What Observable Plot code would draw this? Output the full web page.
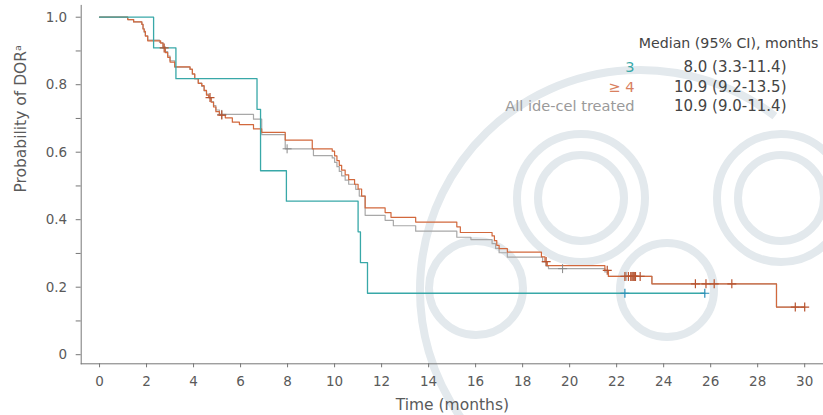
<!DOCTYPE html>
<html><head><meta charset="utf-8">
<script src="https://cdn.jsdelivr.net/npm/d3@7"></script>
<script src="https://cdn.jsdelivr.net/npm/@observablehq/plot@0.6"></script>
<style>
html,body{margin:0;padding:0;background:#fff;}
</style>
</head><body><div id="chart"></div>
<script>
// ---- data ----
const tealTimes = [0, 2.3, 3.25, 6.7, 6.85, 7.95, 11.0, 11.1, 11.4];
const tealSurv  = [1.0, 0.909, 0.818, 0.727, 0.545, 0.455, 0.364, 0.273, 0.182];
const tealEnd = 25.75;
const tealCensor = [22.35, 25.75];

const ge4Times = [0, 1.2, 1.45, 1.8, 1.85, 1.9, 1.95, 2.05, 2.6, 2.7, 2.8, 2.9, 3.0, 3.2, 3.85, 3.95, 4.05, 4.2, 4.35, 4.45, 4.55, 4.65, 4.75, 4.85, 4.95, 5.1, 5.35, 5.65, 5.95, 6.55, 6.9, 7.9, 9.05, 9.9, 10.0, 10.1, 10.2, 10.3, 10.45, 10.6, 10.85, 11.0, 11.15, 11.3, 12.15, 12.4, 13.45, 15.2, 15.35, 16.7, 16.8, 16.9, 17.0, 17.35, 18.8, 18.95, 19.05, 21.5, 21.65, 23.5, 28.8];
const ge4Surv  = [1.0, 0.993, 0.986, 0.979, 0.965, 0.958, 0.944, 0.93, 0.923, 0.909, 0.895, 0.881, 0.867, 0.853, 0.846, 0.832, 0.818, 0.804, 0.797, 0.783, 0.769, 0.762, 0.748, 0.734, 0.72, 0.71, 0.702, 0.689, 0.682, 0.669, 0.659, 0.636, 0.61, 0.603, 0.589, 0.575, 0.561, 0.547, 0.533, 0.519, 0.505, 0.491, 0.47, 0.435, 0.421, 0.407, 0.393, 0.379, 0.362, 0.352, 0.338, 0.324, 0.314, 0.304, 0.29, 0.276, 0.264, 0.25, 0.232, 0.21, 0.141];
const ge4End = 30.0;
const ge4Censor = [2.75, 4.7, 5.2, 19.0, 21.6, 22.35, 22.5, 22.6, 22.65, 22.7, 22.75, 22.8, 23.0, 25.35, 25.8, 26.15, 26.9, 29.6, 30.0];

const allTimes = [0, 1.2, 1.45, 1.8, 1.85, 1.9, 1.95, 2.05, 2.55, 2.7, 2.8, 2.9, 3.0, 3.2, 3.85, 3.95, 4.05, 4.2, 4.35, 4.45, 4.55, 4.65, 4.75, 4.85, 4.95, 5.1, 6.55, 6.9, 7.9, 9.1, 9.9, 10.0, 10.1, 10.2, 10.3, 10.45, 10.6, 10.9, 11.05, 11.3, 12.15, 12.5, 13.45, 15.2, 15.8, 16.7, 16.85, 17.0, 17.35, 18.85, 19.0, 19.1, 21.5, 21.65, 23.5, 28.8];
const allSurv  = [1.0, 0.993, 0.986, 0.979, 0.966, 0.955, 0.945, 0.932, 0.925, 0.912, 0.898, 0.885, 0.871, 0.852, 0.845, 0.831, 0.818, 0.805, 0.795, 0.782, 0.772, 0.762, 0.75, 0.738, 0.725, 0.712, 0.698, 0.652, 0.61, 0.59, 0.583, 0.57, 0.557, 0.543, 0.53, 0.517, 0.505, 0.49, 0.47, 0.413, 0.398, 0.382, 0.366, 0.348, 0.341, 0.329, 0.315, 0.302, 0.289, 0.275, 0.262, 0.255, 0.245, 0.232, 0.21, 0.141];
const allEnd = 30.0;
const allCensor = [5.2, 7.98, 19.7, 22.4, 22.7];

const xTicks = [0, 2, 4, 6, 8, 10, 12, 14, 16, 18, 20, 22, 24, 26, 28, 30];
const yTicks = [0, 0.2, 0.4, 0.6, 0.8, 1.0];
const yMinorTicks = [0.1, 0.3, 0.5, 0.7, 0.9];

const legendTitle = "Median (95% CI), months";
const legendLabels = ["3", "\u2265 4", "All ide-cel treated"];
const legendMedians = ["8.0 (3.3-11.4)", "10.9 (9.2-13.5)", "10.9 (9.0-11.4)"];

// ---- styles ----
const cTeal = "#38a8a8", cOrange = "#d2683c", cGray = "#a8a8a8", cText = "#5a5a5a";
const legendColors = [cTeal, "#d98060", "#9a9a9a"];
const rowDy = [62, 81.5, 101];

function steps(times, surv, end) {
  const rows = times.map((t, i) => ({t, s: surv[i]}));
  rows.push({t: end, s: surv[surv.length - 1]});
  return rows;
}
function censorRows(cens, times, surv) {
  return cens.map(c => {
    let k = 0;
    for (let i = 0; i < times.length; i++) if (times[i] <= c) k = i;
    return {t: c, s: surv[k]};
  });
}

const tealRows = steps(tealTimes, tealSurv, tealEnd);
const ge4Rows = steps(ge4Times, ge4Surv, ge4End);
const allRows = steps(allTimes, allSurv, allEnd);

const font = "DejaVu Sans, Verdana, sans-serif";

const legendMarks = [];
legendMarks.push(Plot.text([legendTitle], {frameAnchor: "top-right", text: d => d, dx: -5, dy: 38.5, textAnchor: "end", lineAnchor: "middle", fontSize: 14.2, fill: "#444"}));
legendLabels.forEach((lab, i) => {
  legendMarks.push(Plot.text([lab], {frameAnchor: "top-right", text: d => d, dx: -189, dy: rowDy[i], textAnchor: "end", lineAnchor: "middle", fontSize: 14.6, fill: legendColors[i]}));
  legendMarks.push(Plot.text([legendMedians[i]], {frameAnchor: "top-right", text: d => d, dx: -37, dy: rowDy[i], textAnchor: "end", lineAnchor: "middle", fontSize: 15, fill: "#444"}));
});

const chart = Plot.plot({
  width: 823,
  height: 415,
  marginLeft: 80.7,
  marginRight: 0,
  marginTop: 4.9,
  marginBottom: 51.7,
  style: {fontFamily: font, background: "#fff"},
  x: {domain: [-0.78, 30.8]},
  y: {domain: [-0.027, 1.035]},
  marks: [
    Plot.frame({anchor: "left", stroke: "#777"}),
    Plot.frame({anchor: "bottom", stroke: "#777"}),
    Plot.axisY({ticks: yTicks, tickFormat: d => d === 0 ? "0" : d.toFixed(1), tickSize: 5, tickPadding: 9, label: null, fontSize: 13.5, fill: cText, stroke: "#777"}),
    Plot.axisY({ticks: yMinorTicks, tickFormat: () => "", tickSize: 5, label: null, stroke: "#777"}),
    Plot.axisX({ticks: xTicks, tickSize: 4, tickPadding: 9, label: null, fontSize: 13.5, fill: cText, stroke: "#777"}),
    Plot.line(allRows, {x: "t", y: "s", curve: "step-after", stroke: cGray, strokeWidth: 1.2}),
    Plot.line(ge4Rows, {x: "t", y: "s", curve: "step-after", stroke: cOrange, strokeWidth: 1.2}),
    Plot.line(tealRows, {x: "t", y: "s", curve: "step-after", stroke: cTeal, strokeWidth: 1.3}),
    Plot.dot(censorRows(allCensor, allTimes, allSurv), {x: "t", y: "s", symbol: "plus", r: 3, stroke: "#888", strokeWidth: 1}),
    Plot.dot(censorRows(ge4Censor, ge4Times, ge4Surv), {x: "t", y: "s", symbol: "plus", r: 3, stroke: "#b85430", strokeWidth: 1.2}),
    Plot.dot(censorRows(tealCensor, tealTimes, tealSurv), {x: "t", y: "s", symbol: "plus", r: 3, stroke: "#2b8fb8", strokeWidth: 1.2}),
    ...legendMarks,
    Plot.text(["Time (months)"], {frameAnchor: "bottom", text: d => d, dy: 41, lineAnchor: "middle", fontSize: 15.5, fill: cText}),
    Plot.text(["Probability of DOR\u1D43"], {frameAnchor: "left", text: d => d, rotate: -90, dx: -60.5, dy: 8, lineAnchor: "middle", fontSize: 15.5, fill: cText})
  ]
});

// faint background watermark (decorative, behind the chart marks)
const svg = d3.select(chart);
const wm = svg.insert("g", ":first-child")
  .attr("fill", "none").attr("stroke", "#e3e9ed").attr("stroke-width", 8);
const arc = d3.arc();
wm.append("path").attr("transform", "translate(640,290)")
  .attr("d", arc({innerRadius: 220, outerRadius: 220, startAngle: -2.2, endAngle: 0.66}));
[[581, 198], [781, 198]].forEach(([cx, cy]) => {
  wm.append("circle").attr("cx", cx).attr("cy", cy).attr("r", 64);
  wm.append("circle").attr("cx", cx).attr("cy", cy).attr("r", 43);
});
[[476, 288], [667, 290]].forEach(([cx, cy]) => {
  wm.append("circle").attr("cx", cx).attr("cy", cy).attr("r", 47);
});

document.getElementById("chart").appendChild(chart);
</script>
</body></html>
